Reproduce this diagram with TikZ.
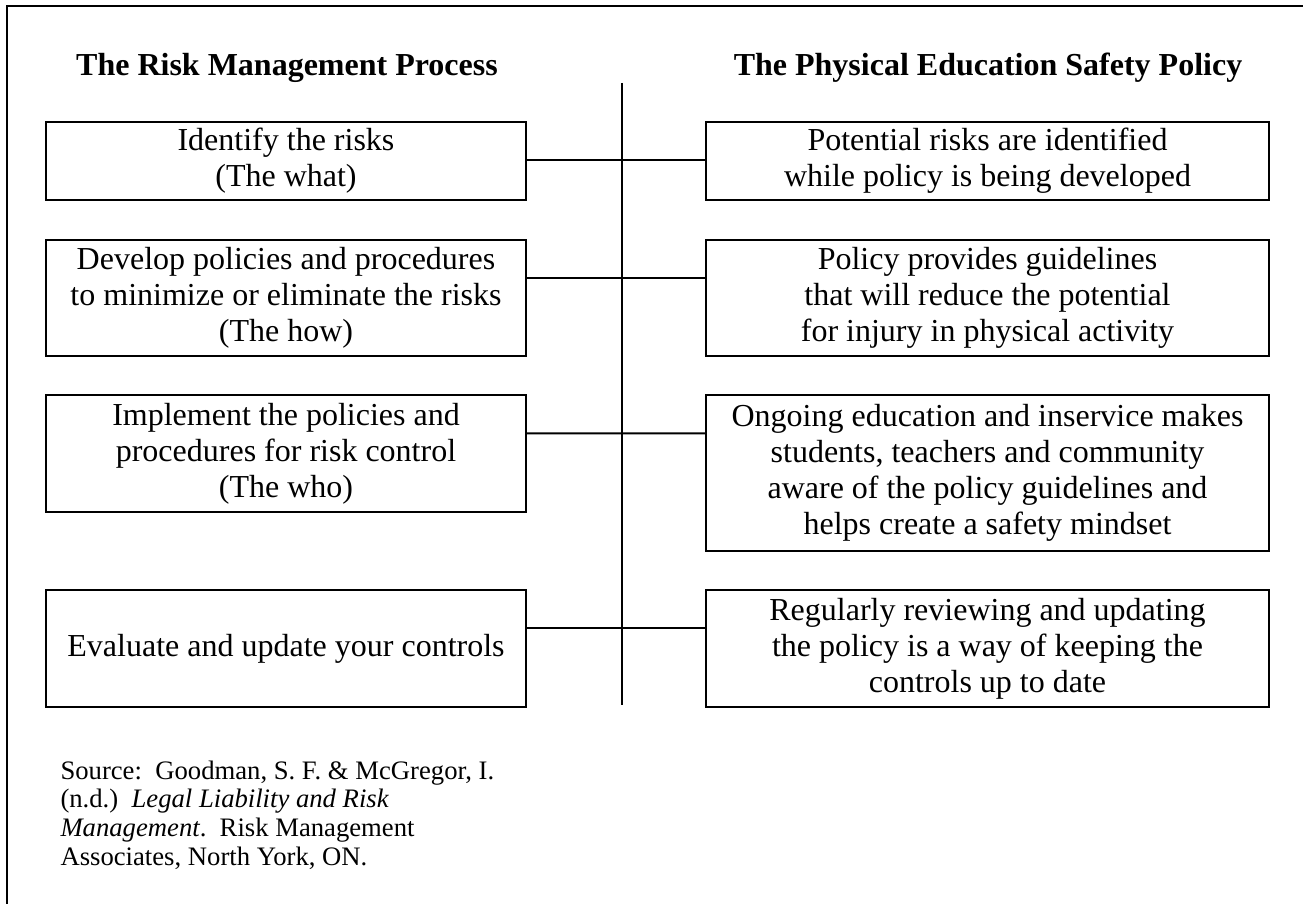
\documentclass[tikz,border=0pt]{standalone}
\usepackage{fontspec}
\setmainfont{Liberation Serif}

\tikzset{
  stepbox/.style={draw,line width=0.8pt,align=center,inner sep=1pt,font=\fontsize{12}{13.5}\selectfont},
  leftbox/.style={stepbox,minimum width=180pt},
  rightbox/.style={stepbox,minimum width=211.1pt},
  coltitle/.style={anchor=base,inner sep=0pt,font=\fontsize{12}{13.5}\selectfont\bfseries},
  link/.style={line width=0.8pt}
}

\begin{document}
\begin{tikzpicture}[x=0.375pt,y=-0.375pt]
    \useasboundingbox (0,0) rectangle (1303,904);
    \clip (0,0) rectangle (1303,904);
    % outer frame (cut at the right and bottom)
    \draw[line width=1.1pt] (7,6) rectangle (1340,940);

    \node at (287,76) [coltitle] (lefttitle) {The Risk Management Process};
    \node at (988,76) [coltitle] (righttitle) {The Physical Education Safety Policy};

    \node at (286,161) [leftbox,minimum height=29.25pt] (lb1) {Identify the risks\\(The what)};
    \node at (286,298) [leftbox,minimum height=43.5pt] (lb2) {Develop policies and procedures\\to minimize or eliminate the risks\\(The how)};
    \node at (286,453.5) [leftbox,minimum height=43.9pt] (lb3) {Implement the policies and\\procedures for risk control\\(The who)};
    \node at (286,648.5) [leftbox,minimum height=43.9pt] (lb4) {Evaluate and update your controls};

    \node at (987.5,161) [rightbox,minimum height=29.25pt] (rb1) {Potential risks are identified\\while policy is being developed};
    \node at (987.5,298) [rightbox,minimum height=43.5pt] (rb2) {Policy provides guidelines\\that will reduce the potential\\for injury in physical activity};
    \node at (987.5,473) [rightbox,minimum height=58.5pt] (rb3) {Ongoing education and inservice makes\\students, teachers and community\\aware of the policy guidelines and\\helps create a safety mindset};
    \node at (987.5,648.5) [rightbox,minimum height=43.9pt] (rb4) {Regularly reviewing and updating\\the policy is a way of keeping the\\controls up to date};

    \coordinate (spinetop) at (622,83);
    \coordinate (spinebot) at (622,705);
    \draw[link] (spinetop) -- (spinebot);

    \foreach \i in {1,...,4}
        \draw[link] ([yshift=-14.8pt]lb\i.north east) -- ([yshift=-14.8pt]rb\i.north west);

    \node at (60,865) [anchor=base west,align=left,inner sep=0pt,font=\fontsize{10}{10.75}\selectfont] (source)
        {Source:\ \ Goodman, S. F. \& McGregor, I.\\(n.d.)\ \ \textit{Legal Liability and Risk}\\\textit{Management}.\ \ Risk Management\\Associates, North York, ON.};
\end{tikzpicture}
\end{document}
